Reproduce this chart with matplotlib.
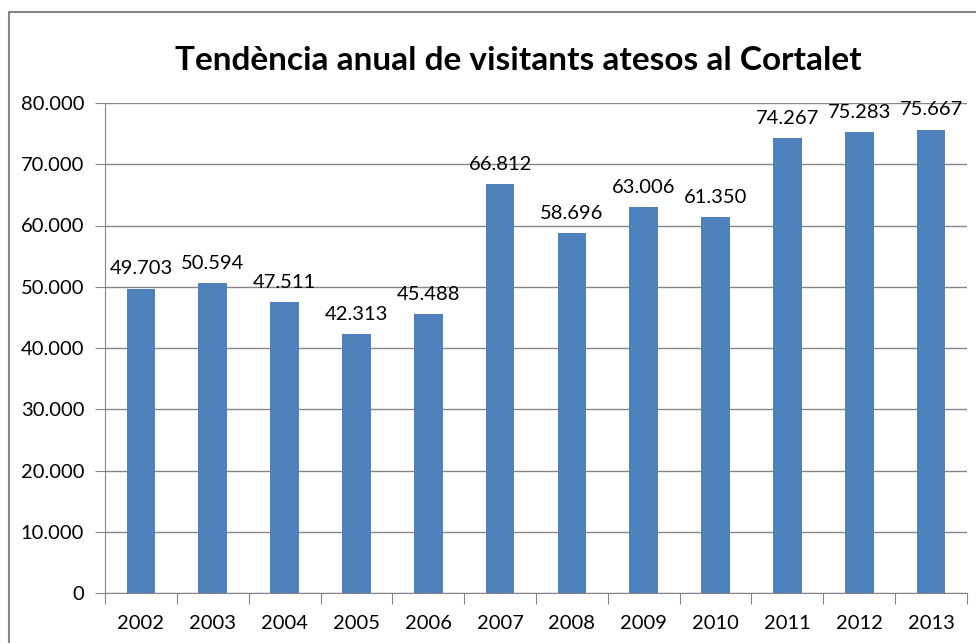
import matplotlib
matplotlib.use("Agg")
import matplotlib.pyplot as plt
from matplotlib.patches import Rectangle
import numpy as np

years = ["2002", "2003", "2004", "2005", "2006", "2007", "2008",
         "2009", "2010", "2011", "2012", "2013"]
visitants = [49703, 50594, 47511, 42313, 45488, 66812, 58696,
             63006, 61350, 74267, 75283, 75667]

plt.rcParams['font.family'] = ['Lato', 'DejaVu Sans']

W, H = 976, 643
fig = plt.figure(figsize=(W / 100, H / 100), dpi=100)
ax = fig.add_axes([105 / W, 1 - 593 / H, (967 - 105) / W, (593 - 103) / H])

gray = "#868686"
x = np.arange(len(years))
ax.bar(x, visitants, width=0.4, color="#4F81BD", zorder=3)

ax.set_xlim(-0.5, len(years) - 0.5)
ax.set_ylim(0, 80000)
ax.set_yticks(np.arange(0, 80001, 10000))
ax.set_yticklabels(["0"] + ["{:,}".format(v).replace(",", ".") for v in range(10000, 80001, 10000)])
ax.yaxis.grid(True, color=gray, linewidth=1, zorder=0)

ax.set_xticks(np.arange(-0.5, len(years), 1))
ax.set_xticklabels([])
ax.set_xticks(x, minor=True)
ax.set_xticklabels(years, minor=True)
ax.tick_params(axis="x", which="major", length=8, color=gray, direction="out")
ax.tick_params(axis="x", which="minor", length=0, pad=16, labelsize=14.5, labelcolor="#000000")
ax.tick_params(axis="y", length=7, color=gray, pad=8, labelsize=14.5)

for side in ["top", "right"]:
    ax.spines[side].set_visible(False)
for side in ["left", "bottom"]:
    ax.spines[side].set_color(gray)

for xi, v in zip(x, visitants):
    ax.annotate("{:,}".format(v).replace(",", "."), (xi, v), xytext=(0, 8),
                textcoords="offset points", ha="center", va="bottom", fontsize=14.5)

fig.text(518 / W, 1 - 60 / H, "Tendència anual de visitants atesos al Cortalet",
         ha="center", va="center", fontsize=24, fontweight="bold")

# chart border (cut off at right and bottom)
fig.patches.append(Rectangle((9 / W, -0.1), 1.1, 1 - 12 / H + 0.1, transform=fig.transFigure,
                             fill=False, edgecolor=gray, linewidth=1.5))

fig.savefig("out.png", dpi=100)
